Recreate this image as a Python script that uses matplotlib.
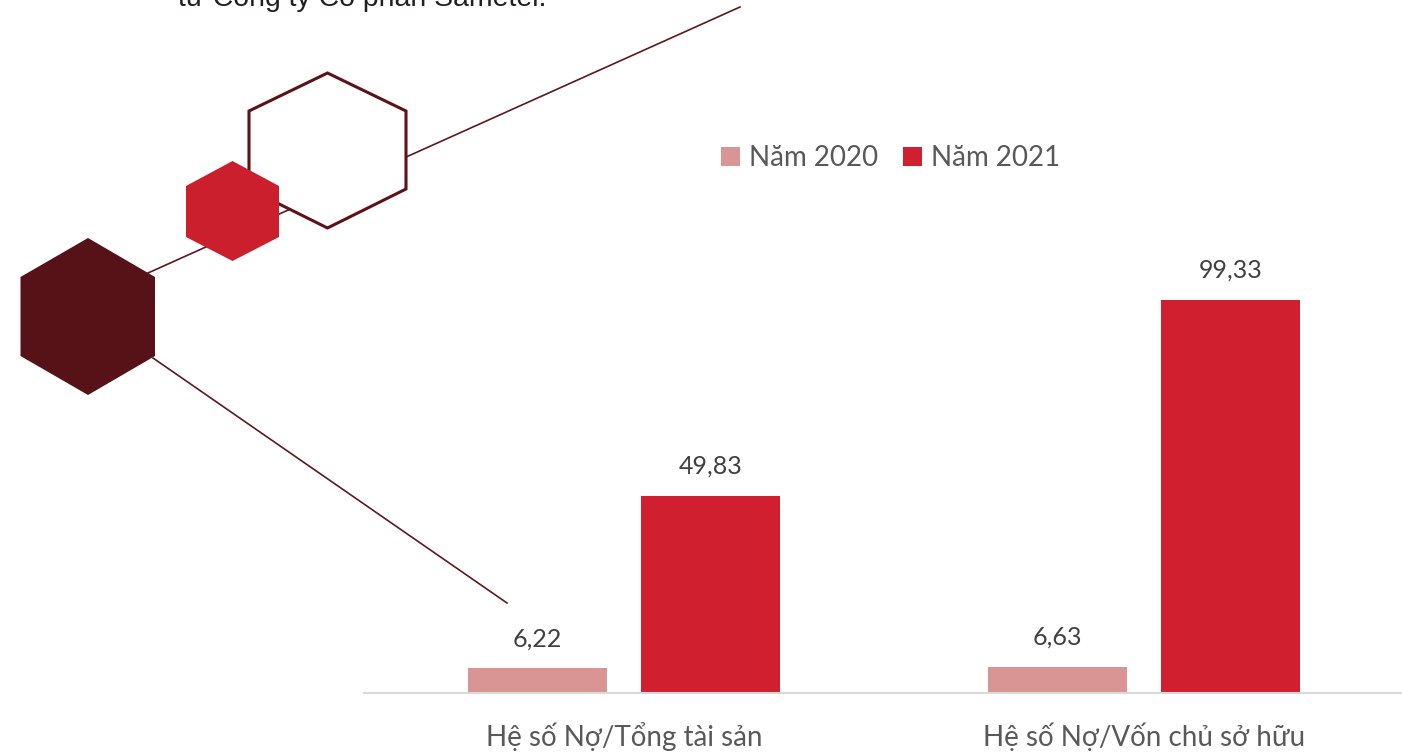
import matplotlib
matplotlib.use("Agg")
import matplotlib.pyplot as plt
from matplotlib.patches import Polygon

W, H = 1402, 754
categories = ["Hệ số Nợ/Tổng tài sản", "Hệ số Nợ/Vốn chủ sở hữu"]
series_names = ["Năm 2020", "Năm 2021"]
values_2020 = [6.22, 6.63]
values_2021 = [49.83, 99.33]
colors = ["#d99594", "#d02030"]

FONT = ["Lato", "DejaVu Sans"]

fig = plt.figure(figsize=(W / 100, H / 100), dpi=100)

# decorative layer in pixel coordinates
deco = fig.add_axes([0, 0, 1, 1])
deco.set_xlim(0, W)
deco.set_ylim(H, 0)
deco.axis("off")

line_c = "#5b1a1f"
deco.plot([148, 740], [273, 7], color=line_c, lw=1.2, zorder=1)
deco.plot([153, 507], [358, 603], color=line_c, lw=1.2, zorder=1)

def hexagon(top, bottom, left, right, side_top, side_bot, cx, **kw):
    pts = [(cx, top), (right, side_top), (right, side_bot), (cx, bottom),
           (left, side_bot), (left, side_top)]
    return Polygon(pts, closed=True, **kw)

deco.add_patch(hexagon(73, 228, 249, 406, 111, 189, 327.5,
                       facecolor="white", edgecolor="#5b1219", lw=2.2, zorder=2))
deco.add_patch(hexagon(161, 261, 186, 279, 186, 237, 232.5,
                       facecolor="#cc1f2e", edgecolor="none", zorder=3))
deco.add_patch(hexagon(238, 395, 20.5, 155, 277, 356, 88,
                       facecolor="#561217", edgecolor="none", zorder=3))

deco.text(178, 6, "từ Công ty Cổ phần Sametel.", fontsize=20.4,
          family="Liberation Sans", color="#231f20", va="baseline", ha="left")

# bar chart
ax_left, ax_right = 364, 1404
ax_bottom_px = 693
ax_top_px = 93
ax = fig.add_axes([ax_left / W, (H - ax_bottom_px) / H,
                   (ax_right - ax_left) / W, (ax_bottom_px - ax_top_px) / H])
ax.patch.set_alpha(0)
scale = 393 / 99.33
ax.set_ylim(0, (ax_bottom_px - ax_top_px) / scale)
ax.set_xlim(-0.5, 1.5)

x = range(len(categories))
bw = 139 / 520
off = 86.5 / 520
for vals, color, label, sign in [(values_2020, colors[0], series_names[0], -1),
                                 (values_2021, colors[1], series_names[1], 1)]:
    xs = [i + sign * off for i in x]
    ax.bar(xs, vals, width=bw, color=color, label=label, zorder=2)
    for xi, v in zip(xs, vals):
        ax.text(xi, v + 4.6, f"{v:.2f}".replace(".", ","), ha="center",
                va="bottom", fontsize=18, family=FONT, color="#404040")

for s in ["top", "right", "left"]:
    ax.spines[s].set_visible(False)
ax.spines["bottom"].set_color("#d9d9d9")
ax.spines["bottom"].set_linewidth(1.5)
ax.set_yticks([])
ax.set_xticks(list(x))
ax.set_xticklabels(categories, fontsize=20, family=FONT, color="#595959")
ax.tick_params(axis="x", length=0, pad=21)

leg = fig.legend(loc="center left", bbox_to_anchor=(696 / W, 1 - 158 / H),
                 ncol=2, frameon=False, handlelength=0.7, handleheight=0.7,
                 handletextpad=0.3, columnspacing=0.9,
                 prop={"family": FONT, "size": 20})
for t in leg.get_texts():
    t.set_color("#595959")

fig.savefig("out.png", dpi=100)
